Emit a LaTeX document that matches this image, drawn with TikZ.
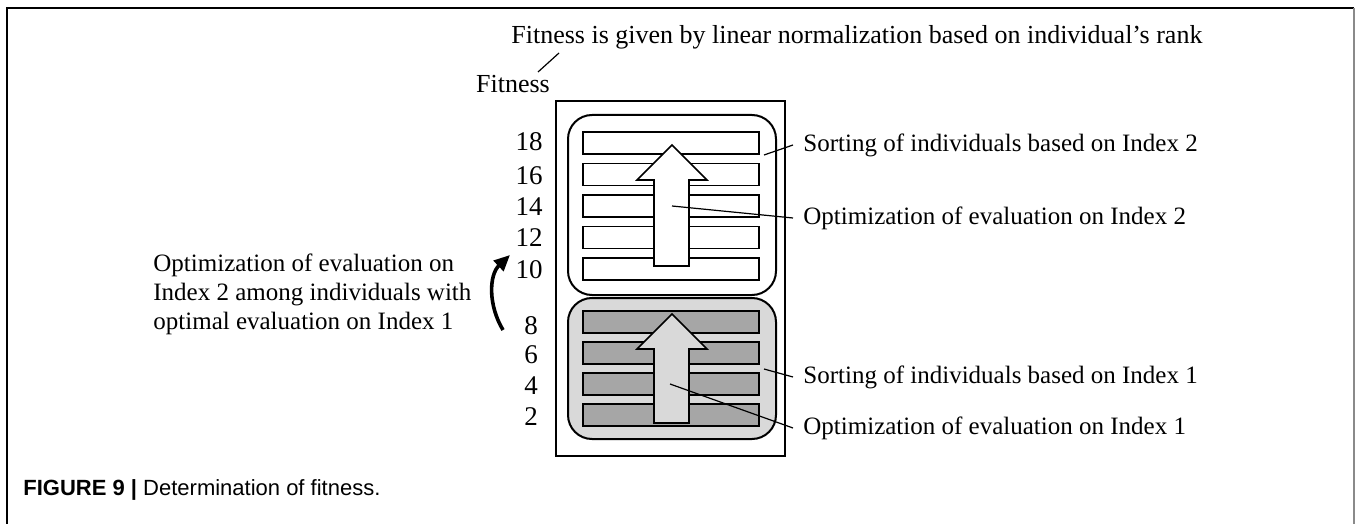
\documentclass[tikz,border=0pt]{standalone}
\usepackage{fontspec}
\setmainfont{Liberation Serif}
\newfontfamily\capfont{Liberation Sans}
\usetikzlibrary{arrows.meta}
\definecolor{panelgray}{HTML}{D9D9D9}
\definecolor{bargray}{HTML}{A6A6A6}
\definecolor{edgegray}{HTML}{8A8A8A}
\tikzset{
  lbl/.style={inner sep=0pt, font=\fontsize{12.5}{14.5}\selectfont},
  num/.style={inner sep=0pt, font=\fontsize{13.5}{15}\selectfont},
  frameline/.style={line width=1pt},
  groupbox/.style={line width=1pt, rounded corners=12pt},
  bar/.style={line width=0.9pt},
  bigarrow/.style={line width=0.8pt, line join=miter},
  leader/.style={line width=0.6pt},
}
\begin{document}
\begin{tikzpicture}[x=0.5pt, y=-0.5pt]
\useasboundingbox (0,0) rectangle (1356,524);

% page frame
\draw[frameline] (7,524) -- (7,8) -- (1354,8);
\draw[line width=1pt, edgegray] (1354,8) -- (1354,524);

% outer box
\draw[frameline] (556,101) rectangle (785,456);

% Index 2 group
\draw[groupbox, fill=white] (568,115) rectangle (776,295);
\foreach \t in {132,163.5,195,226.5,258}
  \draw[bar, fill=white] (583,\t) rectangle (759,\t+22);
\draw[bigarrow, fill=white] (654,266) -- (654,180) -- (637,180) -- (672,145)
  -- (707,180) -- (689,180) -- (689,266) -- cycle;

% Index 1 group
\draw[groupbox, fill=panelgray] (568,298) rectangle (776,439);
\foreach \t in {311,342,373,404}
  \draw[bar, fill=bargray] (583,\t) rectangle (759,\t+22);
\draw[bigarrow, fill=panelgray] (654,423) -- (654,349) -- (637,349) -- (672,314)
  -- (707,349) -- (689,349) -- (689,423) -- cycle;

% fitness values
\node[num] (n18) at (529,142) {18};
\node[num] (n16) at (529,176) {16};
\node[num] (n14) at (529,207) {14};
\node[num] (n12) at (529,238) {12};
\node[num] (n10) at (529,270) {10};
\node[num] (n8) at (531,326) {8};
\node[num] (n6) at (531,355) {6};
\node[num] (n4) at (531,386) {4};
\node[num] (n2) at (531,417) {2};

% headings
\node[lbl, anchor=west, font=\fontsize{13}{15}\selectfont] (title) at (511,37)
  {Fitness is given by linear normalization based on individual’s rank};
\node[lbl, font=\fontsize{13}{15}\selectfont] (fit) at (513,84) {Fitness};
\coordinate (titlefoot) at (559,53);
\coordinate (fittop) at (538,72);
\draw[leader] (titlefoot) -- (fittop);

% side labels
\node[lbl, anchor=west] (sort2) at (803,145) {Sorting of individuals based on Index 2};
\node[lbl, anchor=west] (opt2) at (803,218) {Optimization of evaluation on Index 2};
\node[lbl, anchor=west] (sort1) at (803,377) {Sorting of individuals based on Index 1};
\node[lbl, anchor=west] (opt1) at (803,428) {Optimization of evaluation on Index 1};

\coordinate (g2) at (764,155);
\coordinate (a2) at (672,206);
\coordinate (g1) at (764,369);
\coordinate (a1) at (670,384);
\draw[leader] (g2) -- ([xshift=-5pt]sort2.west);
\draw[leader] (a2) -- ([xshift=-5pt]opt2.west);
\draw[leader] (g1) -- ([xshift=-5pt]sort1.west);
\draw[leader] (a1) -- ([xshift=-5pt]opt1.west);

% note on the left
\node[lbl, anchor=west, align=left] (note) at (153,294)
  {Optimization of evaluation on\\Index 2 among individuals with\\optimal evaluation on Index 1};
\coordinate (cbot) at (503,330);
\coordinate (ctop) at (510,255);
\draw[line width=1.8pt, -{Triangle[length=8pt, width=7pt]}]
  (cbot) .. controls (488,305) and (489,275) .. (ctop);

% caption
\node[inner sep=0pt, anchor=west, font=\capfont\fontsize{11}{13}\selectfont] (cap) at (23,490)
  {\textbf{FIGURE 9 |} Determination of fitness.};
\end{tikzpicture}
\end{document}
